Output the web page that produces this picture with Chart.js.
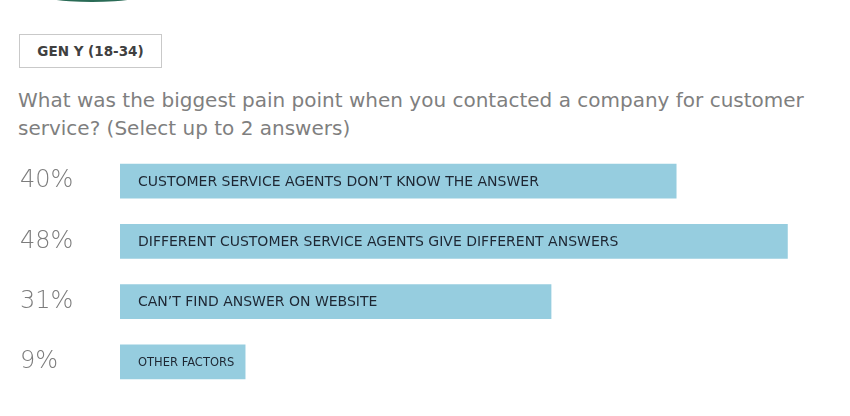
<!DOCTYPE html>
<html>
<head>
<meta charset="utf-8">
<script src="https://cdn.jsdelivr.net/npm/chart.js@4.4.1/dist/chart.umd.min.js"></script>
<style>
  html, body { margin: 0; padding: 0; background: #ffffff; }
  #page { position: relative; width: 850px; height: 416px; overflow: hidden; background: #fff; }
  #arc { position: absolute; left: 33px; top: -18px; width: 118px; height: 20px; border-radius: 50%; background: #2a6b56; }
  #tag { position: absolute; left: 19px; top: 34px; width: 141px; height: 32px; border: 1px solid #c9c9c9;
         font-family: "DejaVu Sans", sans-serif; font-weight: bold; font-size: 13.5px; color: #404040;
         display: flex; align-items: center; justify-content: center; }
  #question { position: absolute; left: 18px; top: 86px; width: 830px;
              font-family: "DejaVu Sans", sans-serif; font-size: 20px; line-height: 28px; color: #7f7f7f; }
  #chartBox { position: absolute; left: 0; top: 140px; width: 850px; height: 276px; }
</style>
</head>
<body>
<div id="page">
  <div id="arc"></div>
  <div id="tag">GEN Y (18-34)</div>
  <div id="question">What was the biggest pain point when you contacted a company for customer<br>service? (Select up to 2 answers)</div>
  <div id="chartBox"><canvas id="c" width="850" height="276"></canvas></div>
</div>
<script>
const categories = [
  "CUSTOMER SERVICE AGENTS DON\u2019T KNOW THE ANSWER",
  "DIFFERENT CUSTOMER SERVICE AGENTS GIVE DIFFERENT ANSWERS",
  "CAN\u2019T FIND ANSWER ON WEBSITE",
  "OTHER FACTORS"
];
const percentValues = [40, 48, 31, 9];
const xMax = 52.5;

const barLabelPlugin = {
  id: 'barLabels',
  afterDatasetsDraw(chart) {
    const ctx = chart.ctx;
    const meta = chart.getDatasetMeta(0);
    ctx.save();
    ctx.textBaseline = 'middle';
    ctx.textAlign = 'left';
    ctx.fillStyle = '#1e2733';
    meta.data.forEach((bar, i) => {
      const left = Math.min(bar.base, bar.x);
      const avail = Math.abs(bar.x - bar.base) - 26;
      let size = 14;
      ctx.font = size + 'px "DejaVu Sans", sans-serif';
      while (ctx.measureText(categories[i]).width > avail && size > 8) {
        size -= 0.5;
        ctx.font = size + 'px "DejaVu Sans", sans-serif';
      }
      ctx.fillText(categories[i], left + 18, bar.y + 1);
    });
    ctx.restore();
  }
};

new Chart(document.getElementById('c'), {
  type: 'bar',
  data: {
    labels: categories,
    datasets: [{
      data: percentValues,
      backgroundColor: '#96cddf',
      borderWidth: 0,
      barThickness: 34
    }]
  },
  options: {
    indexAxis: 'y',
    responsive: false,
    animation: false,
    maintainAspectRatio: false,
    layout: { padding: { left: 20, right: 0, top: 11, bottom: 24 } },
    plugins: { legend: { display: false }, tooltip: { enabled: false } },
    scales: {
      x: { display: false, min: 0, max: xMax },
      y: {
        grid: { display: false },
        border: { display: false },
        afterFit(scale) { scale.width = 100; },
        ticks: {
          crossAlign: 'far',
          padding: 0,
          color: '#7c7c7c',
          font: { family: '"DejaVu Sans", sans-serif', size: 24, weight: 200, lineHeight: 0.4 },
          callback: (v, i) => percentValues[i] + '%'
        }
      }
    }
  },
  plugins: [barLabelPlugin]
});
</script>
</body>
</html>
